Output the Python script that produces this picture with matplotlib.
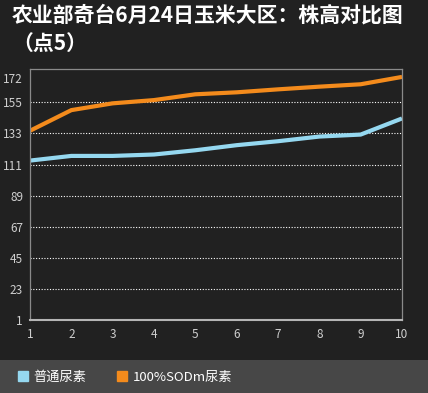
import matplotlib.pyplot as plt
from matplotlib.lines import Line2D
from matplotlib.patches import Rectangle

plt.rcParams["font.family"] = ["Noto Sans CJK SC", "DejaVu Sans"]

points = [1, 2, 3, 4, 5, 6, 7, 8, 9, 10]
normal_urea = [113.8, 117.1, 117.1, 118.1, 121.1, 124.7, 127.5, 130.8, 132.2, 143.6]
sod_urea = [134.9, 149.5, 154.3, 156.6, 160.7, 162.1, 164.2, 166.1, 167.8, 173.0]
y_ticks = [1, 23, 45, 67, 89, 111, 133, 155, 172]
series_names = ["普通尿素", "100%SODm尿素"]

BG = "#212121"
BLUE = "#95d8f0"
ORANGE = "#f48b1c"

fig = plt.figure(figsize=(4.28, 3.93), dpi=100, facecolor=BG)
ax = fig.add_axes([30 / 428, 73 / 393, 372 / 428, 251 / 393], facecolor=BG)

ax.plot(points, normal_urea, color=BLUE, linewidth=3.0, solid_capstyle="butt")
ax.plot(points, sod_urea, color=ORANGE, linewidth=3.0, solid_capstyle="butt")

ax.set_xlim(1, 10)
ax.set_ylim(1, 178.6)
ax.set_xticks(points)
ax.set_yticks(y_ticks)
for y in y_ticks[1:-1]:
    ax.axhline(y, color="white", linestyle=(0, (1, 1.5)), linewidth=0.8, zorder=0)

ax.tick_params(length=0, colors="#cfcfcf", labelsize=8.5)
ax.tick_params(axis="y", pad=5)
ax.tick_params(axis="x", pad=6)
for side in ["left", "top", "right"]:
    ax.spines[side].set_color("#8a8a8a")
    ax.spines[side].set_linewidth(0.9)
ax.spines["bottom"].set_color("#b5b5b5")
ax.spines["bottom"].set_linewidth(1.5)

fig.text(12 / 428, 1 - 5 / 393, "农业部奇台6月24日玉米大区：株高对比图\n（点5）",
         color="white", fontsize=15, fontweight="bold", va="top", ha="left",
         linespacing=1.4)

fig.patches.append(Rectangle((0, 0), 1, 33 / 393, transform=fig.transFigure,
                             facecolor="#474747", edgecolor="none", zorder=0))

handles = [
    Line2D([], [], marker="s", linestyle="", markersize=7.5, color=BLUE),
    Line2D([], [], marker="s", linestyle="", markersize=7.5, color=ORANGE),
]
fig.legend(handles, series_names, loc="center left", bbox_to_anchor=(0.01, 16 / 393),
           ncol=2, frameon=False, labelcolor="white", fontsize=9.5,
           handletextpad=0.3, columnspacing=2.2, handlelength=1.0)

fig.savefig("out.png", dpi=100, facecolor=BG)
